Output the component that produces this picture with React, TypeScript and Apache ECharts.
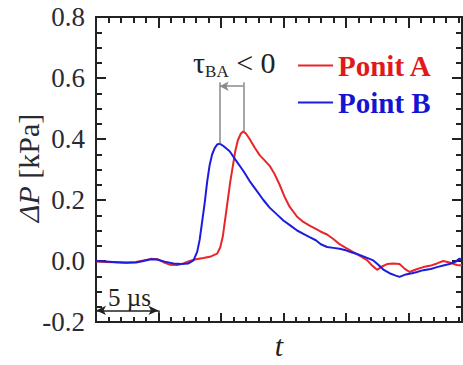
import React, { useEffect, useRef } from "react";
import * as echarts from "echarts";

// time in µs, pressure difference in kPa
const pointATime = [0.0, 0.8, 1.6, 2.4, 3.2, 3.8, 4.4, 4.9, 5.4, 5.9, 6.5, 7.0, 7.5, 8.0, 8.6, 9.2, 9.7, 9.95, 10.15, 10.35, 10.55, 10.75, 10.95, 11.15, 11.35, 11.6, 11.8, 12.0, 12.3, 12.7, 13.1, 13.5, 13.9, 14.3, 14.7, 15.1, 15.5, 16.1, 16.6, 17.1, 17.6, 18.0, 18.5, 19.0, 19.5, 20.0, 20.6, 21.2, 21.7, 22.1, 22.5, 22.9, 23.3, 23.8, 24.3, 24.7, 25.1, 25.6, 26.2, 26.8, 27.3, 27.8, 28.3, 28.9, 29.3];
const pointAValue = [-0.002, -0.003, -0.004, -0.005, -0.003, 0.002, 0.007, 0.006, -0.004, -0.012, -0.013, -0.008, 0.0, 0.006, 0.01, 0.015, 0.024, 0.045, 0.08, 0.14, 0.2, 0.26, 0.31, 0.36, 0.395, 0.418, 0.425, 0.418, 0.4, 0.372, 0.347, 0.33, 0.312, 0.285, 0.25, 0.21, 0.178, 0.145, 0.128, 0.116, 0.105, 0.096, 0.087, 0.072, 0.055, 0.043, 0.029, 0.015, 0.003, -0.015, -0.029, -0.018, -0.01, -0.008, -0.01, -0.025, -0.036, -0.028, -0.02, -0.015, -0.008, 0.0, -0.005, -0.013, -0.015];

const pointBTime = [0.0, 0.8, 1.6, 2.4, 3.2, 3.8, 4.4, 4.9, 5.5, 6.2, 6.8, 7.4, 7.8, 8.1, 8.3, 8.5, 8.7, 8.9, 9.1, 9.3, 9.5, 9.7, 9.9, 10.2, 10.7, 11.2, 11.8, 12.3, 12.9, 13.4, 13.9, 14.5, 15.0, 15.6, 16.1, 16.6, 17.1, 17.6, 18.0, 18.5, 19.0, 19.5, 20.0, 20.5, 20.9, 21.4, 21.9, 22.2, 22.6, 23.0, 23.5, 24.0, 24.3, 24.8, 25.3, 25.7, 26.2, 26.8, 27.3, 27.8, 28.3, 28.8, 29.1, 29.3];
const pointBValue = [0.0, -0.002, -0.004, -0.006, -0.005, 0.0, 0.006, 0.005, -0.002, -0.008, -0.01, -0.008, 0.002, 0.03, 0.07, 0.13, 0.19, 0.26, 0.315, 0.35, 0.37, 0.382, 0.385, 0.377, 0.36, 0.33, 0.295, 0.262, 0.228, 0.2, 0.175, 0.152, 0.133, 0.115, 0.1, 0.089, 0.078, 0.068, 0.055, 0.046, 0.043, 0.04, 0.035, 0.028, 0.023, 0.015, 0.007, 0.002, -0.012, -0.028, -0.04, -0.048, -0.052, -0.044, -0.04, -0.036, -0.03, -0.026, -0.02, -0.015, -0.01, -0.002, 0.008, 0.003];

const seriesNames = ["Ponit A", "Point B"];
const yTicks = [-0.2, 0.0, 0.2, 0.4, 0.6, 0.8];
const xRange = [0, 29.3];

// annotation anchors (data coordinates)
const peakB = [9.9, 0.385];
const peakA = [11.8, 0.425];
const bracketTop = 0.586;
const bracketArrowY = 0.573;
const scaleBarY = -0.162;
const scaleBarSpan = [0, 5];

const RED = "#e8262a";
const BLUE = "#1c1ce0";
const INK = "#222";
const SERIF = "Liberation Serif";

export default function App() {
  const ref = useRef<HTMLDivElement>(null);
  useEffect(() => {
    if (!ref.current) return;
    const chart = echarts.init(ref.current, undefined, { renderer: "svg" });
    const xBase = (pos: "top" | "bottom", interval: number, len: number, withName: boolean) => ({
      type: "value",
      position: pos,
      min: xRange[0],
      max: xRange[1],
      interval,
      axisLine: { show: true, onZero: false, lineStyle: { color: INK, width: 2 } },
      axisTick: { show: true, inside: true, length: len, lineStyle: { color: INK, width: 2 } },
      axisLabel: { show: false },
      splitLine: { show: false },
      ...(withName
        ? {
            name: "t",
            nameLocation: "middle",
            nameGap: 8,
            nameTextStyle: { fontFamily: SERIF, fontStyle: "italic", fontSize: 30, color: INK, verticalAlign: "top" },
          }
        : {}),
    });
    const yBase = (pos: "left" | "right", labels: boolean) => ({
      type: "value",
      position: pos,
      min: yTicks[0],
      max: yTicks[yTicks.length - 1],
      interval: 0.2,
      axisLine: { show: true, onZero: false, lineStyle: { color: INK, width: 2 } },
      axisTick: { show: true, inside: true, length: 10, lineStyle: { color: INK, width: 2 } },
      minorTick: { show: true, splitNumber: 4, length: 6, lineStyle: { color: INK, width: 2 } },
      splitLine: { show: false },
      axisLabel: {
        show: labels,
        margin: 11,
        fontFamily: SERIF,
        fontSize: 27,
        color: "#2a2a33",
        formatter: (v: number) => v.toFixed(1),
      },
    });
    chart.setOption({
      animation: false,
      backgroundColor: "#fff",
      grid: { left: 96, top: 17, right: 1, bottom: 39, containLabel: false },
      xAxis: [
        xBase("bottom", 5, 9, true),
        xBase("bottom", 1, 5, false),
        xBase("top", 5, 11, false),
        xBase("top", 1, 6, false),
      ],
      yAxis: [yBase("left", true), yBase("right", false)],
      legend: {
        left: 293,
        top: 46,
        orient: "vertical",
        icon: "rect",
        itemWidth: 35,
        itemHeight: 2,
        itemGap: 8,
        textStyle: { fontFamily: SERIF, fontWeight: "bold", fontSize: 29 },
        data: [
          { name: seriesNames[0], textStyle: { color: "#e01a1a" } },
          { name: seriesNames[1], textStyle: { color: "#1414d2" } },
        ],
      },
      series: [
        {
          name: seriesNames[0],
          type: "line",
          xAxisIndex: 0,
          yAxisIndex: 0,
          data: pointATime.map((t, i) => [t, pointAValue[i]]),
          showSymbol: false,
          symbol: "none",
          lineStyle: { color: RED, width: 2 },
          itemStyle: { color: RED },
          z: 3,
          markLine: {
            silent: true,
            symbol: ["none", "none"],
            symbolSize: 8,
            label: { show: false },
            lineStyle: { color: "#8a8a8a", width: 1.5, type: "solid" },
            emphasis: { disabled: true },
            data: [
              [{ coord: [peakB[0], peakB[1]] }, { coord: [peakB[0], bracketTop] }],
              [{ coord: [peakA[0], peakA[1]] }, { coord: [peakA[0], bracketTop] }],
              [
                { coord: [peakB[0], bracketArrowY], symbol: "arrow", symbolSize: [7, 9] },
                { coord: [peakA[0], bracketArrowY], symbol: "none" },
              ],
            ],
          },
        },
        {
          name: seriesNames[1],
          type: "line",
          xAxisIndex: 0,
          yAxisIndex: 0,
          data: pointBTime.map((t, i) => [t, pointBValue[i]]),
          showSymbol: false,
          symbol: "none",
          lineStyle: { color: BLUE, width: 2 },
          itemStyle: { color: BLUE },
          z: 4,
          markLine: {
            silent: true,
            symbol: ["arrow", "arrow"],
            symbolSize: [7, 10],
            label: { show: false },
            lineStyle: { color: INK, width: 1.5, type: "solid" },
            emphasis: { disabled: true },
            data: [
              [{ coord: [scaleBarSpan[0], scaleBarY] }, { coord: [scaleBarSpan[1], scaleBarY] }],
              [
                { coord: [scaleBarSpan[1], scaleBarY], symbol: "none" },
                { coord: [scaleBarSpan[1], yTicks[0]], symbol: "none" },
              ],
            ],
          },
        },
      ],
      graphic: [
        {
          type: "text",
          x: 28,
          y: 168,
          rotation: Math.PI / 2,
          style: {
            text: "{i|ΔP} [kPa]",
            align: "center",
            verticalAlign: "middle",
            fill: "#2a2a33",
            fontFamily: SERIF,
            fontSize: 30,
            rich: {
              i: { fontFamily: SERIF, fontStyle: "italic", fontSize: 30, fill: "#2a2a33" },
              r: { fontFamily: SERIF, fontSize: 30, fill: "#2a2a33" },
            },
          },
        },
        {
          type: "text",
          left: 193,
          top: 47,
          style: {
            text: "{t|τ}{s|BA}{n| < 0}",
            fill: "#222",
            rich: {
              t: { fontFamily: SERIF, fontSize: 30, fill: "#222", verticalAlign: "bottom" },
              s: { fontFamily: SERIF, fontSize: 17, fill: "#222", verticalAlign: "bottom", padding: [0, 0, -3, 0] },
              n: { fontFamily: SERIF, fontSize: 30, fill: "#222", verticalAlign: "bottom" },
            },
          },
        },
        {
          type: "text",
          left: 108,
          top: 285,
          style: { text: "5 µs", fontFamily: SERIF, fontSize: 25, fill: "#222" },
        },
      ],
    });
    return () => chart.dispose();
  }, []);
  return <div ref={ref} style={{ width: 463, height: 365, position: "absolute", left: 0, top: 0 }} />;
}
